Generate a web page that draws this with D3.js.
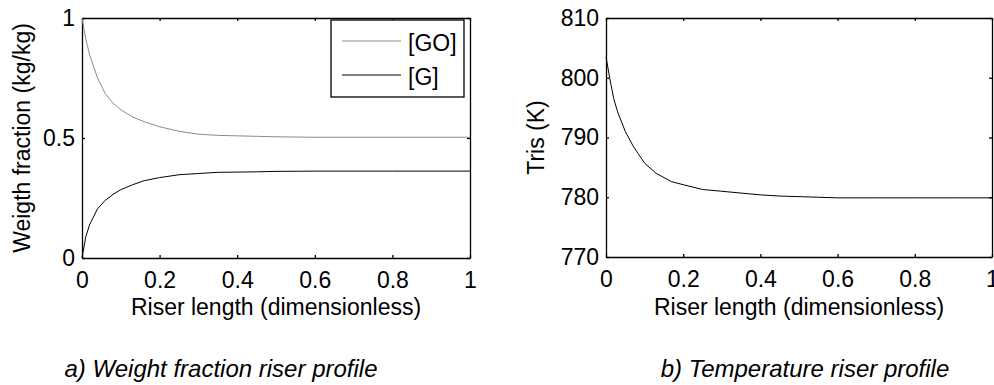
<!DOCTYPE html>
<html>
<head>
<meta charset="utf-8">
<script src="https://cdn.jsdelivr.net/npm/d3@7"></script>
<style>
  body { margin: 0; background: #fff; }
  svg { display: block; font-family: "Liberation Sans", Arial, sans-serif; }
  .axis path, .axis line { stroke: #000; stroke-width: 1.3; }
  .axis text { font-size: 23px; fill: #000; font-family: "Liberation Sans", Arial, sans-serif; }
</style>
</head>
<body>
<svg id="chart" width="994" height="385"></svg>
<script>
// ---- Data ----
const riserX = [0, 0.01, 0.02, 0.04, 0.06, 0.08, 0.1, 0.13, 0.16, 0.2, 0.25, 0.3, 0.35, 0.4, 0.45, 0.5, 0.6, 0.7, 0.8, 0.9, 1.0];
const goValues = [1.0, 0.91, 0.845, 0.75, 0.685, 0.645, 0.618, 0.588, 0.568, 0.547, 0.528, 0.516, 0.511, 0.509, 0.507, 0.505, 0.503, 0.503, 0.503, 0.503, 0.503];
const gValues  = [0.0, 0.09, 0.14, 0.205, 0.24, 0.265, 0.285, 0.305, 0.322, 0.335, 0.347, 0.352, 0.357, 0.358, 0.359, 0.361, 0.362, 0.362, 0.362, 0.362, 0.362];

const tempX = [0, 0.01, 0.02, 0.03, 0.05, 0.07, 0.1, 0.13, 0.17, 0.2, 0.25, 0.3, 0.35, 0.4, 0.45, 0.5, 0.6, 0.7, 0.8, 0.9, 1.0];
const tempValues = [803.5, 799.8, 796.5, 794.3, 791.0, 788.6, 785.7, 784.0, 782.6, 782.1, 781.3, 781.0, 780.7, 780.4, 780.2, 780.1, 779.9, 779.9, 779.9, 779.9, 779.9];

const xTicks = [0, 0.2, 0.4, 0.6, 0.8, 1];
const wfTicks = [0, 0.5, 1];
const tempTicks = [770, 780, 790, 800, 810];

const legendLabels = ["[GO]", "[G]"];
const seriesColors = ["#8a8a8a", "#000000"];

// ---- Drawing ----
const svg = d3.select("#chart");

function drawPanel(opts) {
  const { x0, x1, y0, y1, yDomain, yTicks, yFmt, yTitle, yTitleX, caption, captionX } = opts;
  const x = d3.scaleLinear().domain([0, 1]).range([x0, x1]);
  const y = d3.scaleLinear().domain(yDomain).range([y1, y0]);
  const g = svg.append("g");

  g.append("g").attr("class", "axis").attr("transform", `translate(0,${y1})`)
    .call(d3.axisBottom(x).tickValues(xTicks).tickFormat(d3.format("~g"))
      .tickSizeInner(-3).tickSizeOuter(0).tickPadding(14));
  g.append("g").attr("class", "axis").attr("transform", `translate(0,${y0})`)
    .call(d3.axisTop(x).tickValues(xTicks).tickFormat("")
      .tickSizeInner(-3).tickSizeOuter(0));
  g.append("g").attr("class", "axis").attr("transform", `translate(${x0},0)`)
    .call(d3.axisLeft(y).tickValues(yTicks).tickFormat(yFmt)
      .tickSizeInner(-3).tickSizeOuter(0).tickPadding(7));
  g.append("g").attr("class", "axis").attr("transform", `translate(${x1},0)`)
    .call(d3.axisRight(y).tickValues(yTicks).tickFormat("")
      .tickSizeInner(-3).tickSizeOuter(0));

  g.append("text").attr("x", (x0 + x1) / 2).attr("y", 315)
    .attr("text-anchor", "middle").attr("font-size", 23)
    .text("Riser length (dimensionless)");
  g.append("text")
    .attr("transform", `translate(${yTitleX},${(y0 + y1) / 2}) rotate(-90)`)
    .attr("text-anchor", "middle").attr("font-size", 23)
    .text(yTitle);
  g.append("text").attr("x", captionX).attr("y", 377)
    .attr("text-anchor", "middle").attr("font-size", 24)
    .attr("font-style", "italic")
    .text(caption);

  return { g, x, y };
}

// Panel a
const pa = drawPanel({
  x0: 82, x1: 470, y0: 18, y1: 258,
  yDomain: [0, 1], yTicks: wfTicks, yFmt: d3.format("~g"),
  yTitle: "Weigth fraction (kg/kg)", yTitleX: 30,
  caption: "a) Weight fraction riser profile", captionX: 221
});
const lineA = d3.line().x((d, i) => pa.x(riserX[i])).y(d => pa.y(d));
pa.g.append("path").attr("d", lineA(goValues))
  .attr("fill", "none").attr("stroke", seriesColors[0]).attr("stroke-width", 1);
pa.g.append("path").attr("d", lineA(gValues))
  .attr("fill", "none").attr("stroke", seriesColors[1]).attr("stroke-width", 1);

// legend
const leg = pa.g.append("g");
leg.append("rect").attr("x", 331).attr("y", 20).attr("width", 133).attr("height", 77)
  .attr("fill", "#fff").attr("stroke", "#000").attr("stroke-width", 1.3);
const legY = [41, 75];
legendLabels.forEach((lab, i) => {
  leg.append("line").attr("x1", 342).attr("x2", 401).attr("y1", legY[i]).attr("y2", legY[i])
    .attr("stroke", seriesColors[i]).attr("stroke-width", 1);
  leg.append("text").attr("x", 408).attr("y", legY[i] + 10).attr("font-size", 23).text(lab);
});

// Panel b
const pb = drawPanel({
  x0: 606, x1: 992, y0: 18, y1: 257,
  yDomain: [770, 810], yTicks: tempTicks, yFmt: d3.format("d"),
  yTitle: "Tris (K)", yTitleX: 544,
  caption: "b) Temperature riser profile", captionX: 805
});
const lineB = d3.line().x((d, i) => pb.x(tempX[i])).y(d => pb.y(d));
pb.g.append("path").attr("d", lineB(tempValues))
  .attr("fill", "none").attr("stroke", "#000").attr("stroke-width", 1);
</script>
</body>
</html>
